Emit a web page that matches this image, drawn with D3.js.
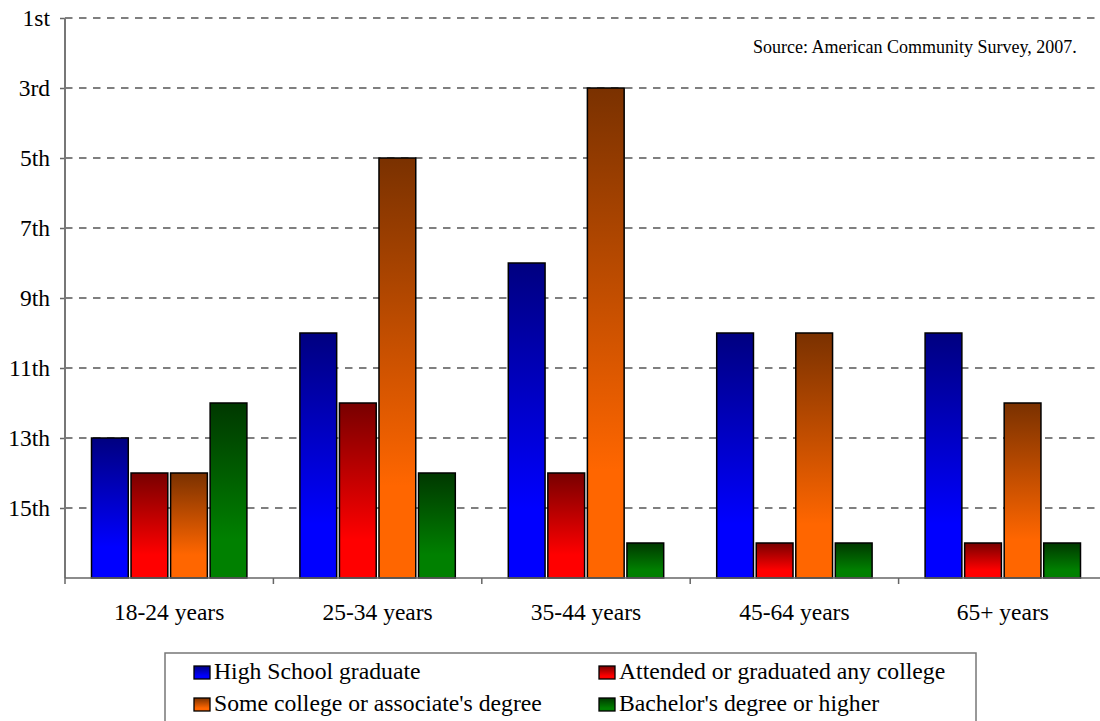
<!DOCTYPE html>
<html>
<head>
<meta charset="utf-8">
<script src="https://cdn.jsdelivr.net/npm/d3@7"></script>
<style>
  html, body { margin: 0; padding: 0; background: #fff; }
  svg { display: block; }
  text { font-family: "Liberation Serif", "Times New Roman", serif; fill: #000; }
</style>
</head>
<body>
<svg id="chart" width="1100" height="721"></svg>
<script>
// ---- data ----
const categories = ["18-24 years", "25-34 years", "35-44 years", "45-64 years", "65+ years"];
const seriesNames = ["High School graduate", "Attended or graduated any college", "Some college or associate's degree", "Bachelor's degree or higher"];
const highSchool = [13, 10, 8, 10, 10];
const attended   = [14, 12, 14, 16, 16];
const someCollege = [14, 5, 3, 10, 12];
const bachelor   = [12, 14, 16, 16, 16];
const rankTicks  = [1, 3, 5, 7, 9, 11, 13, 15];
const rankLabels = ["1st", "3rd", "5th", "7th", "9th", "11th", "13th", "15th"];
const sourceNote = "Source: American Community Survey, 2007.";

const seriesValues = [highSchool, attended, someCollege, bachelor];
const gradTop    = ["#000080", "#780000", "#7a3100", "#003800"];
const gradBottom = ["#0000ff", "#ff0000", "#ff6600", "#008000"];

(function () {
// ---- layout ----
const svg = d3.select("#chart");
const mLeft = 65, mRight = 1107, mTop = 18, mBottom = 578;

const x0 = d3.scaleBand().domain(categories).range([mLeft, mRight]).paddingInner(0).paddingOuter(0);
const bw = x0.bandwidth();
const x1 = d3.scaleBand().domain(d3.range(seriesNames.length)).range([26.5, bw - 26.5]).paddingInner(0.07);
const y = d3.scaleLinear().domain([1, 17]).range([mTop, mBottom]);

// gradients
const defs = svg.append("defs");
seriesNames.forEach((s, i) => {
  const g = defs.append("linearGradient").attr("id", "g" + i)
    .attr("x1", 0).attr("y1", 0).attr("x2", 0).attr("y2", 1);
  g.append("stop").attr("offset", "0%").attr("stop-color", gradTop[i]);
  g.append("stop").attr("offset", "78%").attr("stop-color", gradBottom[i]);
  g.append("stop").attr("offset", "100%").attr("stop-color", gradBottom[i]);
});

// gridlines
svg.append("g").selectAll("line").data(rankTicks).join("line")
  .attr("x1", mLeft).attr("x2", mRight)
  .attr("y1", d => y(d)).attr("y2", d => y(d))
  .attr("stroke", "#555").attr("stroke-width", 1.3)
  .attr("stroke-dasharray", "7.5,6.5");

// y axis
const yAxis = d3.axisLeft(y).tickValues(rankTicks)
  .tickFormat((d, i) => rankLabels[i]).tickSize(5).tickPadding(10);
const gy = svg.append("g").attr("transform", `translate(${mLeft},0)`).call(yAxis);
gy.select(".domain").remove();
gy.selectAll(".tick line").attr("stroke", "#666").attr("stroke-width", 1.5);
gy.selectAll(".tick text").attr("font-size", 23.5).attr("font-family", "Liberation Serif").attr("fill", "#000");
svg.append("line").attr("x1", mLeft).attr("x2", mLeft).attr("y1", mTop).attr("y2", mBottom)
  .attr("stroke", "#777").attr("stroke-width", 2);

// bars
const groups = svg.append("g").selectAll("g").data(categories).join("g")
  .attr("transform", d => `translate(${x0(d)},0)`);
groups.selectAll("rect").data((c, ci) => seriesValues.map((vals, si) => ({ si, v: vals[ci] })))
  .join("rect")
  .attr("x", d => x1(d.si))
  .attr("width", x1.bandwidth())
  .attr("y", d => y(d.v))
  .attr("height", d => y(17) - y(d.v))
  .attr("fill", d => `url(#g${d.si})`)
  .attr("stroke", "#000").attr("stroke-width", 1.5);

// x axis
svg.append("line").attr("x1", mLeft).attr("x2", mRight).attr("y1", mBottom).attr("y2", mBottom)
  .attr("stroke", "#666").attr("stroke-width", 1.5);
const bounds = categories.map(c => x0(c)).concat([mRight]);
svg.append("g").selectAll("line").data(bounds).join("line")
  .attr("x1", d => d).attr("x2", d => d).attr("y1", mBottom).attr("y2", mBottom + 6)
  .attr("stroke", "#666").attr("stroke-width", 1.5);
svg.append("g").selectAll("text").data(categories).join("text")
  .attr("x", d => x0(d) + bw / 2).attr("y", 620)
  .attr("text-anchor", "middle").attr("font-size", 23.5).text(d => d);

// source note
svg.append("text").attr("x", 753).attr("y", 53).attr("font-size", 18).text(sourceNote);

// legend
svg.append("rect").attr("x", 165).attr("y", 653).attr("width", 811).attr("height", 90)
  .attr("fill", "#fff").attr("stroke", "#777").attr("stroke-width", 1.5);
const legPos = [[194, 666], [599, 666], [194, 698], [599, 698]];
const leg = svg.append("g").selectAll("g").data(seriesNames).join("g")
  .attr("transform", (d, i) => `translate(${legPos[i][0]},${legPos[i][1]})`);
leg.append("rect").attr("width", 16).attr("height", 13)
  .attr("fill", (d, i) => `url(#g${i})`).attr("stroke", "#000").attr("stroke-width", 1.3);
leg.append("text").attr("x", 20).attr("y", 13).attr("font-size", 23.7).text(d => d);
})();
</script>
</body>
</html>
